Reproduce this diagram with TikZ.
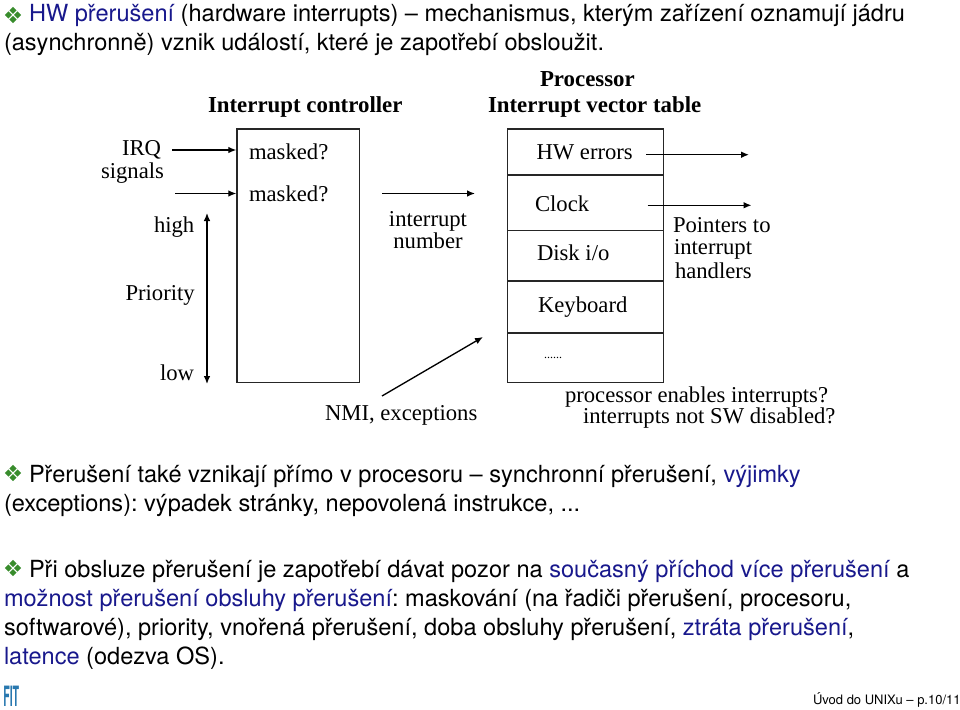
\documentclass[tikz,border=0pt]{standalone}
\usepackage{fontspec}
\setmainfont{Liberation Serif}
\newfontfamily\hv{TeX Gyre Heros}
\definecolor{hblue}{RGB}{24,24,140}
\definecolor{bgreen}{RGB}{56,140,44}
\definecolor{fitblue}{RGB}{40,120,175}
\usetikzlibrary{arrows.meta}
\tikzset{
  x=0.75pt,y=-0.75pt,
  lab/.style={anchor=base west,inner sep=0pt,outer sep=0pt,font=\fontsize{17}{17}\selectfont},
  labb/.style={lab,font=\fontsize{17.15}{18}\bfseries\selectfont},
  body/.style={anchor=base west,inner sep=0pt,outer sep=0pt,font=\frenchspacing\hv\fontsize{17.68}{18}\selectfont},
  foot/.style={anchor=base west,inner sep=0pt,outer sep=0pt,font=\hv\fontsize{9.75}{11}\selectfont},
  bigbox/.style={draw=black!85,line width=1pt,rectangle,inner sep=0pt,anchor=north west},
  arr/.style={draw=black,line width=1pt,-{Latex[length=6pt,width=5pt]}},
  darr/.style={draw=black,line width=1pt,{Latex[length=6pt,width=5pt]}-{Latex[length=6pt,width=5pt]}}
}
\newcommand{\kbul}[2]{%
  \foreach \dx/\dy in {0/-4.6,-4.6/0,4.6/0,0/4.6}{%
    \fill[bgreen] (#1+\dx,#2+\dy+0) ++(0,-3.6) -- ++(3.6,3.6) -- ++(-3.6,3.6) -- ++(-3.6,-3.6) -- cycle;}}
\begin{document}
\begin{tikzpicture}
\useasboundingbox (0,0) rectangle (960,710);
% body text
\kbul{13}{15}
\node[body] (t1) at (29,22) {\textcolor{hblue}{HW přerušení} (hardware interrupts) – mechanismus, kterým zařízení oznamují jádru};
\node[body] (t2) at (4,51) {(asynchronně) vznik událostí, které je zapotřebí obsloužit.};
\kbul{13}{473}
\node[body] (t3) at (29,482) {Přerušení také vznikají přímo v procesoru – synchronní přerušení, \textcolor{hblue}{výjimky}};
\node[body] (t4) at (4,511) {(exceptions): výpadek stránky, nepovolená instrukce, ...};
\kbul{13}{568}
\node[body] (t5) at (29,577) {Při obsluze přerušení je zapotřebí dávat pozor na \textcolor{hblue}{současný příchod více přerušení} a};
\node[body] (t6) at (4,606) {\textcolor{hblue}{možnost přerušení obsluhy přerušení}: maskování (na řadiči přerušení, procesoru,};
\node[body] (t7) at (4,635) {softwarové), priority, vnořená přerušení, doba obsluhy přerušení, \textcolor{hblue}{ztráta přerušení},};
\node[body] (t8) at (4,664) {\textcolor{hblue}{latence} (odezva OS).};
\node[foot] (ft) at (813,704) {Úvod do UNIXu – p.10/11};
\node[anchor=base west,inner sep=0pt,text=fitblue,font=\hv\bfseries\fontsize{21}{21}\selectfont] (fit) at (3,706) {\scalebox{0.38}[1]{FIT}};
% headings
\node[labb] (hc) at (208,113) {Interrupt controller};
\node[labb] (hp) at (540,87) {Processor};
\node[labb] (hv) at (488,113) {Interrupt vector table};
% boxes
\node[bigbox,minimum width=91.8pt,minimum height=190.1pt] (ctrl) at (236.3,128.3) {};
\node[bigbox,minimum width=117pt,minimum height=34.5pt] (r1) at (507,128.3) {};
\node[bigbox,minimum width=117pt,minimum height=41.6pt] (r2) at (507,174.3) {};
\node[bigbox,minimum width=117pt,minimum height=37.9pt] (r3) at (507,229.8) {};
\node[bigbox,minimum width=117pt,minimum height=39pt] (r4) at (507,280.3) {};
\node[bigbox,minimum width=117pt,minimum height=37pt] (r5) at (507,332.3) {};
% labels
\node[lab] (irq) at (122,155) {IRQ};
\node[lab] (sig) at (101,178) {signals};
\node[lab] (hi) at (154,232) {high};
\node[lab] (pri) at (125.5,300) {Priority};
\node[lab] (lo) at (160,380) {low};
\node[lab] (m1) at (249,159) {masked?};
\node[lab] (m2) at (249,201) {masked?};
\node[lab,anchor=base] (in) at (428,226) {interrupt};
\node[lab,anchor=base] (nu) at (428,248) {number};
\node[lab] (nmi) at (325,420) {NMI, exceptions};
\node[lab] (l1) at (536.5,159) {HW errors};
\node[lab] (l2) at (535,211) {Clock};
\node[lab] (l3) at (537,260) {Disk i/o};
\node[lab] (l4) at (538,312) {Keyboard};
\node[lab,font=\fontsize{9}{9}\selectfont] (l5) at (544,358) {......};
\node[lab] (p1) at (673,232) {Pointers to};
\node[lab] (p2) at (674,254) {interrupt};
\node[lab] (p3) at (675,278) {handlers};
\node[lab] (e1) at (565,402) {processor enables interrupts?};
\node[lab] (e2) at (583,423) {interrupts not SW disabled?};
% connector ends
\coordinate (a1) at (172,150);
\coordinate (a2) at (175,193.5);
\coordinate (b1) at (382,193.5);
\coordinate (b2) at (475,193.5);
\coordinate (c1) at (646,154.7);
\coordinate (c2) at (749,154.7);
\coordinate (d1) at (647.5,205.3);
\coordinate (d2) at (751.5,205.3);
\coordinate (e3) at (207,213);
\coordinate (e4) at (207,384);
\coordinate (f1) at (382,396);
\coordinate (f2) at (483,337);
\draw[arr] (a1) -- (a1 -| ctrl.west);
\draw[arr] (a2) -- (a2 -| ctrl.west);
\draw[arr] (b1) -- (b2);
\draw[arr] (c1) -- (c2);
\draw[arr] (d1) -- (d2);
\draw[darr] (e3) -- (e4);
\draw[arr] (f1) -- (f2);
\end{tikzpicture}
\end{document}
